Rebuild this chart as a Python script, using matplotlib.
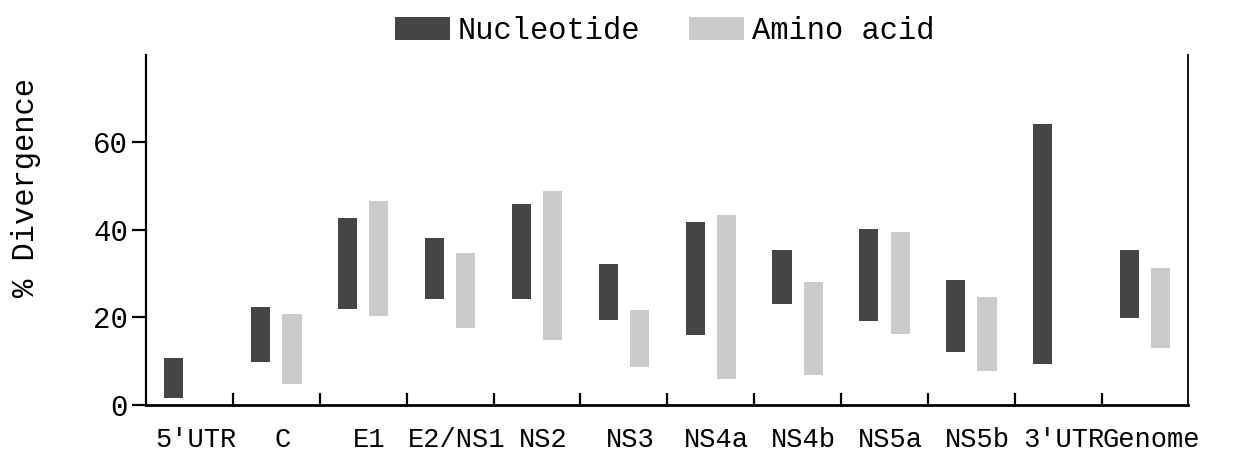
import numpy as np
import matplotlib
matplotlib.use('Agg')
import matplotlib.pyplot as plt

plt.rcParams['font.family'] = ['Liberation Mono', 'DejaVu Sans Mono']

regions = ["5'UTR", 'C', 'E1', 'E2/NS1', 'NS2', 'NS3', 'NS4a', 'NS4b', 'NS5a', 'NS5b', "3'UTR", 'Genome']

# divergence ranges (low, high) in %
nuc_low = [1.5, 9.8, 22.0, 24.2, 24.3, 19.3, 15.9, 23.1, 19.2, 12.1, 9.3, 19.8]
nuc_high = [10.8, 22.4, 42.7, 38.2, 46.0, 32.3, 41.7, 35.5, 40.1, 28.5, 64.2, 35.5]
aa_low = [np.nan, 4.7, 20.4, 17.6, 14.9, 8.7, 6.0, 6.9, 16.1, 7.8, np.nan, 13.0]
aa_high = [np.nan, 20.7, 46.5, 34.8, 48.9, 21.7, 43.4, 28.0, 39.4, 24.6, np.nan, 31.4]

y_ticks = [0, 20, 40, 60]

fig = plt.figure(figsize=(12.38, 4.57), dpi=100)
ax = fig.add_axes([0.118, 0.114, 0.842, 0.766])

idx = np.arange(len(regions))
nuc_low = np.array(nuc_low)
nuc_high = np.array(nuc_high)
aa_low = np.array(aa_low)
aa_high = np.array(aa_high)

b1 = ax.bar(idx + 0.32, nuc_high - nuc_low, bottom=nuc_low, width=0.22,
            color='#454545', label='Nucleotide')
b2 = ax.bar(idx + 0.68, aa_high - aa_low, bottom=aa_low, width=0.22,
            color='#cbcbcb', label='Amino acid')

ax.set_xlim(0, len(regions))
ax.set_ylim(0, 80)

# x ticks at slot boundaries, labels at slot centres
ax.set_xticks(np.arange(1, len(regions)))
ax.set_xticklabels([])
ax.set_xticks(idx + 0.57, minor=True)
ax.set_xticklabels(regions, minor=True, fontsize=19.5)
ax.tick_params(axis='x', which='major', direction='in', length=9, width=1.6)
ax.tick_params(axis='x', which='minor', length=0, pad=16)

ax.set_yticks(y_ticks)
ax.set_yticklabels([str(t) for t in y_ticks], fontsize=21)
ax.tick_params(axis='y', direction='out', length=10, width=1.6, pad=3)

ax.spines['top'].set_visible(False)
ax.spines['left'].set_linewidth(1.6)
ax.spines['bottom'].set_linewidth(2.0)
ax.spines['right'].set_linewidth(1.3)

ax.set_ylabel('% Divergence', fontsize=22)
ax.yaxis.set_label_coords(-0.101, 0.62)

fig.legend(handles=[b1, b2], ncol=2, loc='upper center', bbox_to_anchor=(0.537, 1.025),
           frameon=False, fontsize=22, handlelength=1.8, handleheight=0.75,
           handletextpad=0.25, columnspacing=1.6)

fig.savefig('out.png', dpi=100)
